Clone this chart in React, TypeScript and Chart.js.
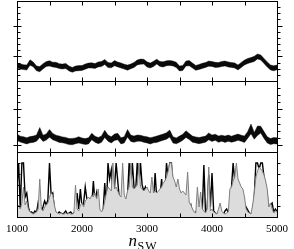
import React, { useEffect, useRef } from 'react';
import { Chart, registerables } from 'chart.js';

Chart.register(...registerables);

// x grid for the two upper panels (step 50)
const X50 = [
  1000, 1050, 1100, 1150, 1200, 1250, 1300, 1350, 1400, 1450,
  1500, 1550, 1600, 1650, 1700, 1750, 1800, 1850, 1900, 1950,
  2000, 2050, 2100, 2150, 2200, 2250, 2300, 2350, 2400, 2450,
  2500, 2550, 2600, 2650, 2700, 2750, 2800, 2850, 2900, 2950,
  3000, 3050, 3100, 3150, 3200, 3250, 3300, 3350, 3400, 3450,
  3500, 3550, 3600, 3650, 3700, 3750, 3800, 3850, 3900, 3950,
  4000, 4050, 4100, 4150, 4200, 4250, 4300, 4350, 4400, 4450,
  4500, 4550, 4600, 4650, 4700, 4750, 4800, 4850, 4900, 4950,
  5000,
];

// x grid for the bottom panel (step 25)
const X25 = [
  1000, 1025, 1050, 1075, 1100, 1125, 1150, 1175, 1200, 1225,
  1250, 1275, 1300, 1325, 1350, 1375, 1400, 1425, 1450, 1475,
  1500, 1525, 1550, 1575, 1600, 1625, 1650, 1675, 1700, 1725,
  1750, 1775, 1800, 1825, 1850, 1875, 1900, 1925, 1950, 1975,
  2000, 2025, 2050, 2075, 2100, 2125, 2150, 2175, 2200, 2225,
  2250, 2275, 2300, 2325, 2350, 2375, 2400, 2425, 2450, 2475,
  2500, 2525, 2550, 2575, 2600, 2625, 2650, 2675, 2700, 2725,
  2750, 2775, 2800, 2825, 2850, 2875, 2900, 2925, 2950, 2975,
  3000, 3025, 3050, 3075, 3100, 3125, 3150, 3175, 3200, 3225,
  3250, 3275, 3300, 3325, 3350, 3375, 3400, 3425, 3450, 3475,
  3500, 3525, 3550, 3575, 3600, 3625, 3650, 3675, 3700, 3725,
  3750, 3775, 3800, 3825, 3850, 3875, 3900, 3925, 3950, 3975,
  4000, 4025, 4050, 4075, 4100, 4125, 4150, 4175, 4200, 4225,
  4250, 4275, 4300, 4325, 4350, 4375, 4400, 4425, 4450, 4475,
  4500, 4525, 4550, 4575, 4600, 4625, 4650, 4675, 4700, 4725,
  4750, 4775, 4800, 4825, 4850, 4875, 4900, 4925, 4950, 4975,
  5000,
];

// Panel 1: upper / lower edge of the noisy band
const P1_UPPER = [
  17.8, 17.2, 16.3, 16.0, 21.2, 19.0, 15.1, 14.4, 17.3, 19.4,
  20.3, 18.8, 18.7, 17.3, 16.9, 17.6, 15.0, 13.6, 14.9, 15.4,
  15.4, 17.0, 17.9, 18.2, 17.4, 19.1, 19.6, 21.5, 18.6, 17.9,
  20.4, 18.9, 18.1, 16.8, 15.9, 17.0, 18.6, 21.0, 21.9, 21.7,
  19.2, 17.9, 19.7, 21.8, 19.5, 19.2, 20.2, 20.6, 19.9, 18.7,
  15.0, 15.6, 20.0, 20.4, 17.9, 15.6, 16.5, 17.7, 18.4, 19.9,
  19.5, 18.7, 18.4, 19.6, 19.9, 19.1, 18.5, 18.1, 16.0, 18.6,
  20.9, 22.6, 23.5, 24.7, 27.0, 26.1, 22.5, 19.1, 16.0, 15.3,
  15.9,
];
const P1_LOWER = [
  12.9, 12.0, 11.4, 10.9, 15.8, 14.2, 10.2, 9.3, 12.1, 14.6,
  15.0, 14.0, 13.6, 12.4, 12.0, 12.5, 10.1, 8.7, 10.0, 10.3,
  10.6, 11.8, 13.1, 13.0, 12.6, 14.1, 14.4, 16.6, 13.5, 13.2,
  15.2, 14.1, 13.0, 11.9, 10.8, 12.2, 13.5, 16.1, 16.8, 16.9,
  14.0, 13.1, 14.5, 16.9, 14.6, 14.0, 15.3, 15.5, 15.1, 13.6,
  10.0, 10.6, 15.0, 15.2, 13.0, 10.7, 11.6, 12.5, 13.6, 14.8,
  14.6, 13.5, 13.7, 14.5, 15.1, 14.0, 13.6, 13.0, 11.1, 13.5,
  16.1, 17.5, 18.6, 19.5, 22.1, 21.0, 17.6, 14.0, 11.1, 10.2,
  11.2,
];

// Panel 2: upper / lower edge of the noisy band
const P2_UPPER = [
  17.9, 15.8, 15.3, 14.2, 15.4, 15.9, 17.0, 24.5, 16.8, 18.0,
  22.5, 18.6, 16.8, 16.0, 15.1, 14.6, 13.5, 13.6, 14.1, 15.3,
  14.0, 13.4, 14.3, 18.8, 15.8, 14.5, 16.1, 21.8, 16.9, 15.2,
  17.9, 18.7, 14.2, 15.3, 22.4, 16.9, 15.9, 17.0, 16.8, 15.8,
  15.2, 14.3, 15.1, 15.9, 17.0, 18.0, 19.3, 21.9, 15.2, 14.1,
  15.9, 17.8, 21.3, 18.5, 15.9, 15.1, 14.5, 15.2, 15.9, 19.1,
  16.9, 17.8, 16.0, 16.8, 15.9, 17.0, 15.8, 16.9, 17.9, 16.8,
  16.0, 20.6, 28.0, 19.6, 26.0, 25.8, 20.4, 15.3, 13.5, 14.5,
  14.2,
];
const P2_LOWER = [
  11.6, 9.9, 9.0, 8.1, 9.2, 9.6, 10.8, 14.5, 10.6, 11.9,
  14.8, 12.2, 10.9, 9.6, 9.2, 8.4, 7.4, 7.2, 8.3, 9.0,
  8.2, 7.5, 8.1, 12.2, 9.8, 8.3, 9.7, 14.6, 10.7, 9.1,
  11.6, 12.3, 8.0, 9.1, 14.9, 10.6, 9.8, 10.7, 10.8, 9.7,
  9.1, 8.0, 9.2, 9.6, 10.7, 11.8, 12.8, 14.9, 9.0, 8.2,
  9.7, 11.7, 14.6, 12.4, 9.7, 9.1, 8.3, 9.0, 9.8, 12.2,
  10.6, 11.7, 9.7, 10.8, 9.6, 10.7, 9.8, 10.6, 11.7, 10.7,
  9.6, 13.8, 18.2, 12.8, 16.5, 18.9, 13.6, 9.0, 7.4, 8.3,
  8.0,
];

// Panel 3: grey filled series and black spiky series
const P3_GRAY = [
  10, 12, 8, 14, 30, 12, 16, 8, 5, 4,
  3, 4, 5, 8, 38, 8, 6, 10, 12, 14,
  20, 24, 22, 12, 5, 4, 3, 4, 3, 3,
  4, 3, 4, 3, 3, 4, 32, 8, 6, 12,
  14, 10, 16, 18, 20, 18, 22, 20, 24, 18,
  28, 8, 5, 8, 16, 24, 30, 28, 26, 54,
  28, 30, 26, 22, 20, 54, 22, 18, 26, 30,
  54, 30, 28, 30, 32, 54, 30, 28, 26, 28,
  30, 26, 24, 40, 24, 26, 24, 26, 28, 30,
  34, 36, 40, 46, 54, 54, 40, 36, 30, 38,
  28, 24, 26, 24, 22, 45, 14, 12, 8, 5,
  4, 30, 10, 25, 8, 6, 4, 8, 50, 6,
  8, 5, 4, 3, 8, 14, 6, 4, 3, 4,
  5, 28, 30, 36, 40, 54, 38, 34, 30, 28,
  20, 8, 5, 4, 3, 12, 24, 40, 46, 50,
  48, 46, 42, 36, 28, 10, 14, 8, 4, 6,
  5,
];
const P3_BLACK = [
  30, 54, 8, 54, 54, 20, 24, 10, 4, 5,
  3, 6, 4, 14, 5, 6, 10, 16, 12, 17,
  54, 22, 24, 8, 4, 3, 5, 4, 3, 4,
  6, 3, 4, 5, 3, 4, 6, 24, 8, 28,
  10, 14, 30, 18, 16, 14, 12, 36, 14, 24,
  10, 5, 4, 6, 34, 8, 54, 38, 47, 20,
  30, 54, 36, 18, 16, 14, 8, 3, 20, 54,
  28, 54, 30, 26, 54, 28, 54, 32, 26, 30,
  24, 22, 18, 20, 16, 44, 18, 14, 20, 38,
  18, 24, 54, 40, 54, 54, 30, 20, 24, 18,
  20, 2, 14, 12, 16, 10, 8, 12, 4, 3,
  5, 7, 6, 8, 4, 52, 5, 8, 42, 10,
  44, 6, 4, 3, 5, 7, 4, 3, 6, 8,
  5, 3, 30, 54, 36, 30, 34, 26, 22, 18,
  2, 10, 7, 4, 3, 5, 20, 54, 54, 48,
  54, 54, 40, 30, 22, 2, 12, 14, 5, 8,
  6,
];

// Axis ticks
const X_LABELS = [1000, 2000, 3000, 4000, 5000];
const X_MARKS = [1000, 1500, 2000, 2500, 3000, 3500, 4000, 4500, 5000];
const P1_TICKS = [6.2, 12.3, 18.5, 24.6, 30.8, 36.9, 43.1, 49.2, 55.4, 61.5, 67.7, 73.8];
const P1_MAJOR = [24.6, 55.4];
const P2_TICKS = [7.1, 14.2, 21.3, 28.4, 35.5, 42.6, 49.7, 56.8, 63.9];
const P2_MAJOR = [7.1, 42.6];
const P3_TICKS = [11, 21.7, 32.4, 43.1, 53.8];
const P3_MAJOR: number[] = [];

const PANELS = [
  { id: 'y1', ticks: P1_TICKS, major: P1_MAJOR },
  { id: 'y2', ticks: P2_TICKS, major: P2_MAJOR },
  { id: 'y3', ticks: P3_TICKS, major: P3_MAJOR },
];

const framePlugin = {
  id: 'frame',
  afterDatasetsDraw(chart: any) {
    const ctx = chart.ctx as CanvasRenderingContext2D;
    const { left, right } = chart.chartArea;
    const xs = chart.scales.x;
    const L = Math.round(left) + 0.5;
    const R = Math.round(right) + 0.5;
    ctx.save();
    ctx.strokeStyle = '#000';
    ctx.lineWidth = 1;
    const line = (x1: number, y1: number, x2: number, y2: number) => {
      ctx.beginPath();
      ctx.moveTo(x1, y1);
      ctx.lineTo(x2, y2);
      ctx.stroke();
    };
    PANELS.forEach((p) => {
      const s = chart.scales[p.id];
      const T = Math.round(s.top) + 0.5;
      const B = Math.round(s.bottom) + 0.5;
      ctx.strokeRect(L, T, R - L, B - T);
      p.ticks.forEach((v) => {
        const y = Math.round(s.getPixelForValue(v)) + 0.5;
        const isMajor = p.major.includes(v);
        line(L - (isMajor ? 4 : 0), y, L + (isMajor ? 4 : 3), y);
        line(R, y, R + (isMajor ? 5 : 3), y);
      });
      X_MARKS.forEach((v) => {
        const x = Math.round(xs.getPixelForValue(v)) + 0.5;
        line(x, T, x, T + 4);
        line(x, B, x, B - 4);
      });
    });
    ctx.restore();
  },
};

const hiddenY = {
  type: 'linear' as const,
  position: 'left' as const,
  stack: 'panels',
  ticks: { display: false },
  grid: { display: false, drawTicks: false },
  border: { display: false },
};

export default function App() {
  const ref = useRef<HTMLCanvasElement>(null);

  useEffect(() => {
    const pts = (xs: number[], ys: number[]) => xs.map((x, i) => ({ x, y: ys[i] }));
    const base = { pointRadius: 0, tension: 0 };
    const edge = 'rgba(0,0,0,0.4)';
    const chart = new Chart(ref.current!, {
      type: 'line',
      data: {
        datasets: [
          { ...base, data: pts(X50, P1_UPPER), yAxisID: 'y1', borderColor: edge, borderWidth: 1, fill: false },
          { ...base, data: pts(X50, P1_LOWER), yAxisID: 'y1', borderColor: edge, borderWidth: 1, fill: '-1', backgroundColor: '#0a0a0a' },
          { ...base, data: pts(X50, P2_UPPER), yAxisID: 'y2', borderColor: edge, borderWidth: 1, fill: false },
          { ...base, data: pts(X50, P2_LOWER), yAxisID: 'y2', borderColor: edge, borderWidth: 1, fill: '-1', backgroundColor: '#0a0a0a' },
          { ...base, data: pts(X25, P3_GRAY), yAxisID: 'y3', borderColor: '#7f7f7f', borderWidth: 1, fill: 'origin', backgroundColor: '#dcdcdc' },
          { ...base, data: pts(X25, P3_BLACK), yAxisID: 'y3', borderColor: '#000', borderWidth: 1.4, fill: false },
        ] as any,
      },
      options: {
        animation: false,
        responsive: false,
        devicePixelRatio: 1,
        layout: { padding: { left: 11.7, right: 11.9, top: 1, bottom: 6.8 } },
        plugins: { legend: { display: false }, tooltip: { enabled: false } },
        scales: {
          x: {
            type: 'linear',
            min: 1000,
            max: 5000,
            afterBuildTicks: (s: any) => {
              s.ticks = X_LABELS.map((v) => ({ value: v }));
            },
            ticks: {
              color: '#000',
              font: { family: 'Liberation Serif', size: 11 },
              padding: 6,
              maxRotation: 0,
              autoSkip: false,
              callback: (v: any) => String(v),
            },
            grid: { display: false, drawTicks: false },
            border: { display: false },
          },
          y1: { ...hiddenY, min: 0, max: 80, stackWeight: 80, weight: 3 },
          y2: { ...hiddenY, min: 0, max: 71, stackWeight: 71, weight: 2 },
          y3: { ...hiddenY, min: 0, max: 65, stackWeight: 65, weight: 1 },
        } as any,
      },
      plugins: [framePlugin],
    });
    return () => chart.destroy();
  }, []);

  return (
    <div style={{ position: 'fixed', left: 0, top: 0, width: 294, height: 249, background: '#fff' }}>
      <canvas ref={ref} width={294} height={249} style={{ display: 'block' }} />
      <span
        style={{
          position: 'absolute',
          left: 128.5,
          top: 232.3,
          fontFamily: 'Liberation Serif',
          fontStyle: 'italic',
          fontSize: 17,
          lineHeight: '17px',
          color: '#000',
          whiteSpace: 'nowrap',
        }}
      >
        n
      </span>
      <span
        style={{
          position: 'absolute',
          left: 137.5,
          top: 239.5,
          fontFamily: 'Liberation Serif',
          fontSize: 12,
          lineHeight: '12px',
          letterSpacing: 1,
          color: '#000',
          whiteSpace: 'nowrap',
        }}
      >
        SW
      </span>
    </div>
  );
}
